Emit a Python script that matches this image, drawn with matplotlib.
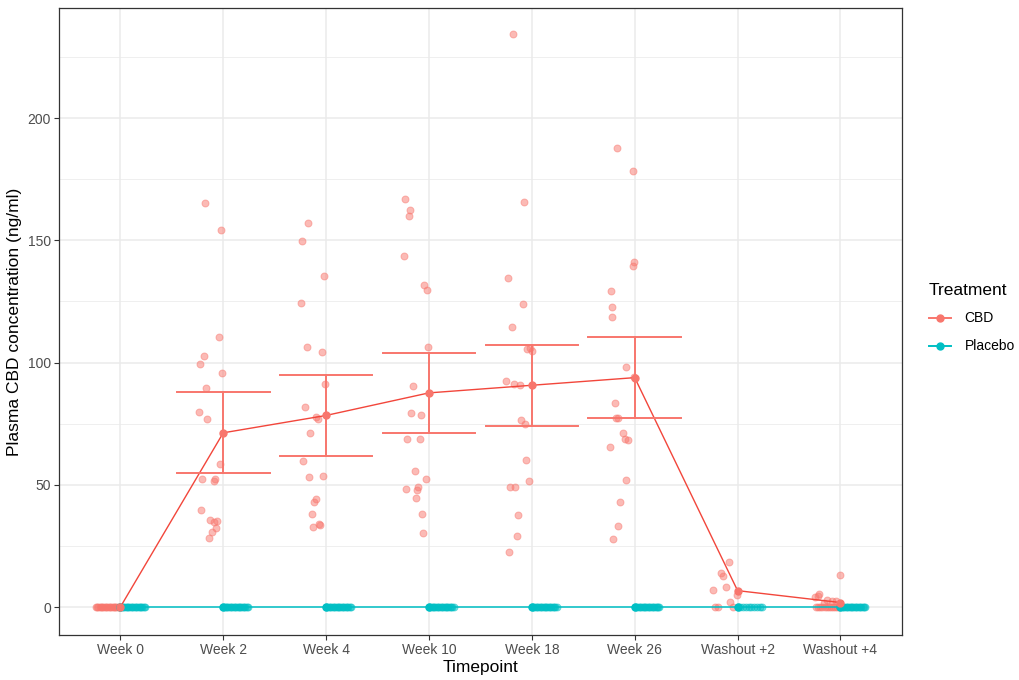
import matplotlib.pyplot as plt
from matplotlib.lines import Line2D
import numpy as np

plt.rcParams["font.family"] = ["Liberation Sans", "DejaVu Sans"]

# Categories
timepoints = ["Week 0", "Week 2", "Week 4", "Week 10", "Week 18", "Week 26",
              "Washout +2", "Washout +4"]

# CBD individual concentrations (ng/ml), with their jitter offsets
cbd_week0 = [0] * 20
cbd_week2 = [165.1, 154.1, 110.3, 102.5, 99.4, 95.8, 89.7, 79.8, 76.8, 58.5,
             52.4, 51.7, 52.5, 39.7, 35.5, 34.9, 35.2, 32.4, 30.8, 28.2]
cbd_week4 = [157.2, 149.7, 135.5, 124.3, 106.3, 104.3, 91.1, 81.9, 77.7, 77.0,
             71.0, 59.6, 53.3, 53.7, 44.3, 42.8, 38.0, 32.6, 33.8, 33.4]
cbd_week10 = [167.1, 162.5, 160.1, 143.4, 131.7, 129.5, 106.5, 90.3, 79.2, 78.7,
              68.6, 68.6, 55.5, 52.4, 48.1, 49.0, 48.0, 44.7, 37.9, 30.3]
cbd_week18 = [234.4, 165.7, 134.8, 123.8, 114.7, 105.6, 105.8, 104.6, 92.4, 91.4,
              91.0, 76.5, 74.7, 60.1, 51.5, 49.0, 49.0, 37.7, 29.2, 22.5]
cbd_week26 = [187.7, 178.4, 141.0, 139.5, 129.1, 122.6, 118.7, 98.0, 94.3, 83.5,
              77.2, 77.4, 71.0, 68.9, 68.5, 65.5, 51.9, 42.9, 33.0, 27.7]
cbd_wash2 = [18.5, 14.0, 12.5, 8.2, 7.1, 4.8, 1.9, 0, 0, 0]
cbd_wash4 = [13.1, 5.2, 4.5, 4.0, 2.9, 2.5, 2.5, 1.8, 0, 0, 0, 0, 0, 0, 0, 0, 0, 0, 0, 0]

jit_week0 = list(np.linspace(-0.24, 0.0, 20))
jit_week2 = [-0.18, -0.02, -0.04, -0.19, -0.23, -0.01, -0.17, -0.24, -0.16, -0.03,
             -0.21, -0.09, -0.08, -0.22, -0.13, -0.09, -0.06, -0.07, -0.11, -0.14]
jit_week4 = [-0.18, -0.23, -0.02, -0.24, -0.19, -0.04, -0.01, -0.21, -0.10, -0.08,
             -0.16, -0.22, -0.17, -0.03, -0.10, -0.12, -0.14, -0.13, -0.07, -0.06]
jit_week10 = [-0.23, -0.18, -0.19, -0.24, -0.05, -0.02, -0.01, -0.16, -0.17, -0.08,
              -0.21, -0.09, -0.14, -0.03, -0.22, -0.11, -0.12, -0.13, -0.07, -0.06]
jit_week18 = [-0.18, -0.08, -0.23, -0.09, -0.19, -0.05, -0.02, 0.00, -0.25, -0.17,
              -0.12, -0.11, -0.07, -0.06, -0.03, -0.21, -0.16, -0.13, -0.14, -0.22]
jit_week26 = [-0.17, -0.02, -0.01, -0.02, -0.23, -0.22, -0.22, -0.08, -0.01, -0.19,
              -0.18, -0.16, -0.11, -0.09, -0.07, -0.24, -0.08, -0.14, -0.16, -0.21]
jit_wash2 = [-0.08, -0.16, -0.14, -0.11, -0.24, -0.01, -0.07, -0.22, -0.19, -0.04]
jit_wash4 = [0.00, -0.21, -0.22, -0.25, -0.13, -0.08, -0.04, -0.16,
             -0.24, -0.22, -0.20, -0.18, -0.15, -0.13, -0.11, -0.09, -0.07, -0.05, -0.03, -0.01]

cbd_values = [cbd_week0, cbd_week2, cbd_week4, cbd_week10, cbd_week18, cbd_week26,
              cbd_wash2, cbd_wash4]
cbd_jitter = [jit_week0, jit_week2, jit_week4, jit_week10, jit_week18, jit_week26,
              jit_wash2, jit_wash4]

# Placebo: every measurement is zero
placebo_n = [20, 20, 20, 20, 20, 20, 10, 20]

# Error bars (weeks 2-26), half width of interval
ci_half = 16.5
ci_idx = [1, 2, 3, 4, 5]

red = "#F8766D"
red_line = "#F2463B"
teal = "#00BFC4"

fig = plt.figure(figsize=(10.2, 6.8), dpi=100)
ax = fig.add_axes([0.0575, 0.066, 0.827, 0.922])

x = np.arange(len(timepoints))

# jittered individual points
for i, (vals, jit) in enumerate(zip(cbd_values, cbd_jitter)):
    ax.scatter(i + np.array(jit), vals, s=25, color=red, alpha=0.5,
               linewidths=0.7, zorder=3)
for i, n in enumerate(placebo_n):
    off = np.linspace(0.0, 0.24, n)
    ax.scatter(i + off, np.zeros(n), s=25, color=teal, alpha=0.5,
               linewidths=0.7, zorder=3)

# summary: mean line + points
cbd_mean = np.array([np.mean(v) for v in cbd_values])
placebo_mean = np.zeros(len(timepoints))
ax.plot(x, cbd_mean, "-", color=red_line, lw=1.0, zorder=4)
ax.plot(x, cbd_mean, "o", color=red, ms=5.0, zorder=5)
ax.plot(x, placebo_mean, "-o", color=teal, lw=1.1, ms=5.0, zorder=4)

# error bars
for i in ci_idx:
    m = cbd_mean[i]
    ax.plot([i, i], [m - ci_half, m + ci_half], color=red, lw=1.4, zorder=4)
    for yy in (m - ci_half, m + ci_half):
        ax.plot([i - 0.45, i + 0.45], [yy, yy], color=red, lw=1.4, zorder=4)

# axes styling (theme_bw-ish)
ax.set_xlim(-0.6, len(timepoints) - 0.4)
ax.set_ylim(-11.5, 245)
ax.set_xticks(x)
ax.set_xticklabels(timepoints)
ax.set_yticks([0, 50, 100, 150, 200])
ax.set_yticks([25, 75, 125, 175, 225], minor=True)
ax.grid(True, which="major", color="#EBEBEB", lw=1.1)
ax.grid(True, which="minor", axis="y", color="#EBEBEB", lw=0.55)
ax.set_axisbelow(True)
ax.tick_params(axis="both", which="major", length=3.5, width=0.8, color="#333333",
               labelsize=10, labelcolor="#4D4D4D", pad=2)
ax.tick_params(axis="both", which="minor", length=0)
for sp in ax.spines.values():
    sp.set_color("#333333")
    sp.set_linewidth(0.9)

ax.set_xlabel("Timepoint", fontsize=12.5, labelpad=2)
ax.set_ylabel("Plasma CBD concentration (ng/ml)", fontsize=12.5, labelpad=4)

handles = [Line2D([], [], color=red, marker="o", ms=5.0, lw=1.4, label="CBD"),
           Line2D([], [], color=teal, marker="o", ms=5.0, lw=1.4, label="Placebo")]
leg = ax.legend(handles=handles, title="Treatment", loc="center left",
                bbox_to_anchor=(929 / 1020, 1 - 318 / 680),
                bbox_transform=fig.transFigure, borderaxespad=0, borderpad=0,
                frameon=False, fontsize=10, title_fontsize=12.5,
                handlelength=1.6, handletextpad=0.95, labelspacing=1.0)
leg._legend_box.align = "left"

fig.savefig("out.png", dpi=100)
